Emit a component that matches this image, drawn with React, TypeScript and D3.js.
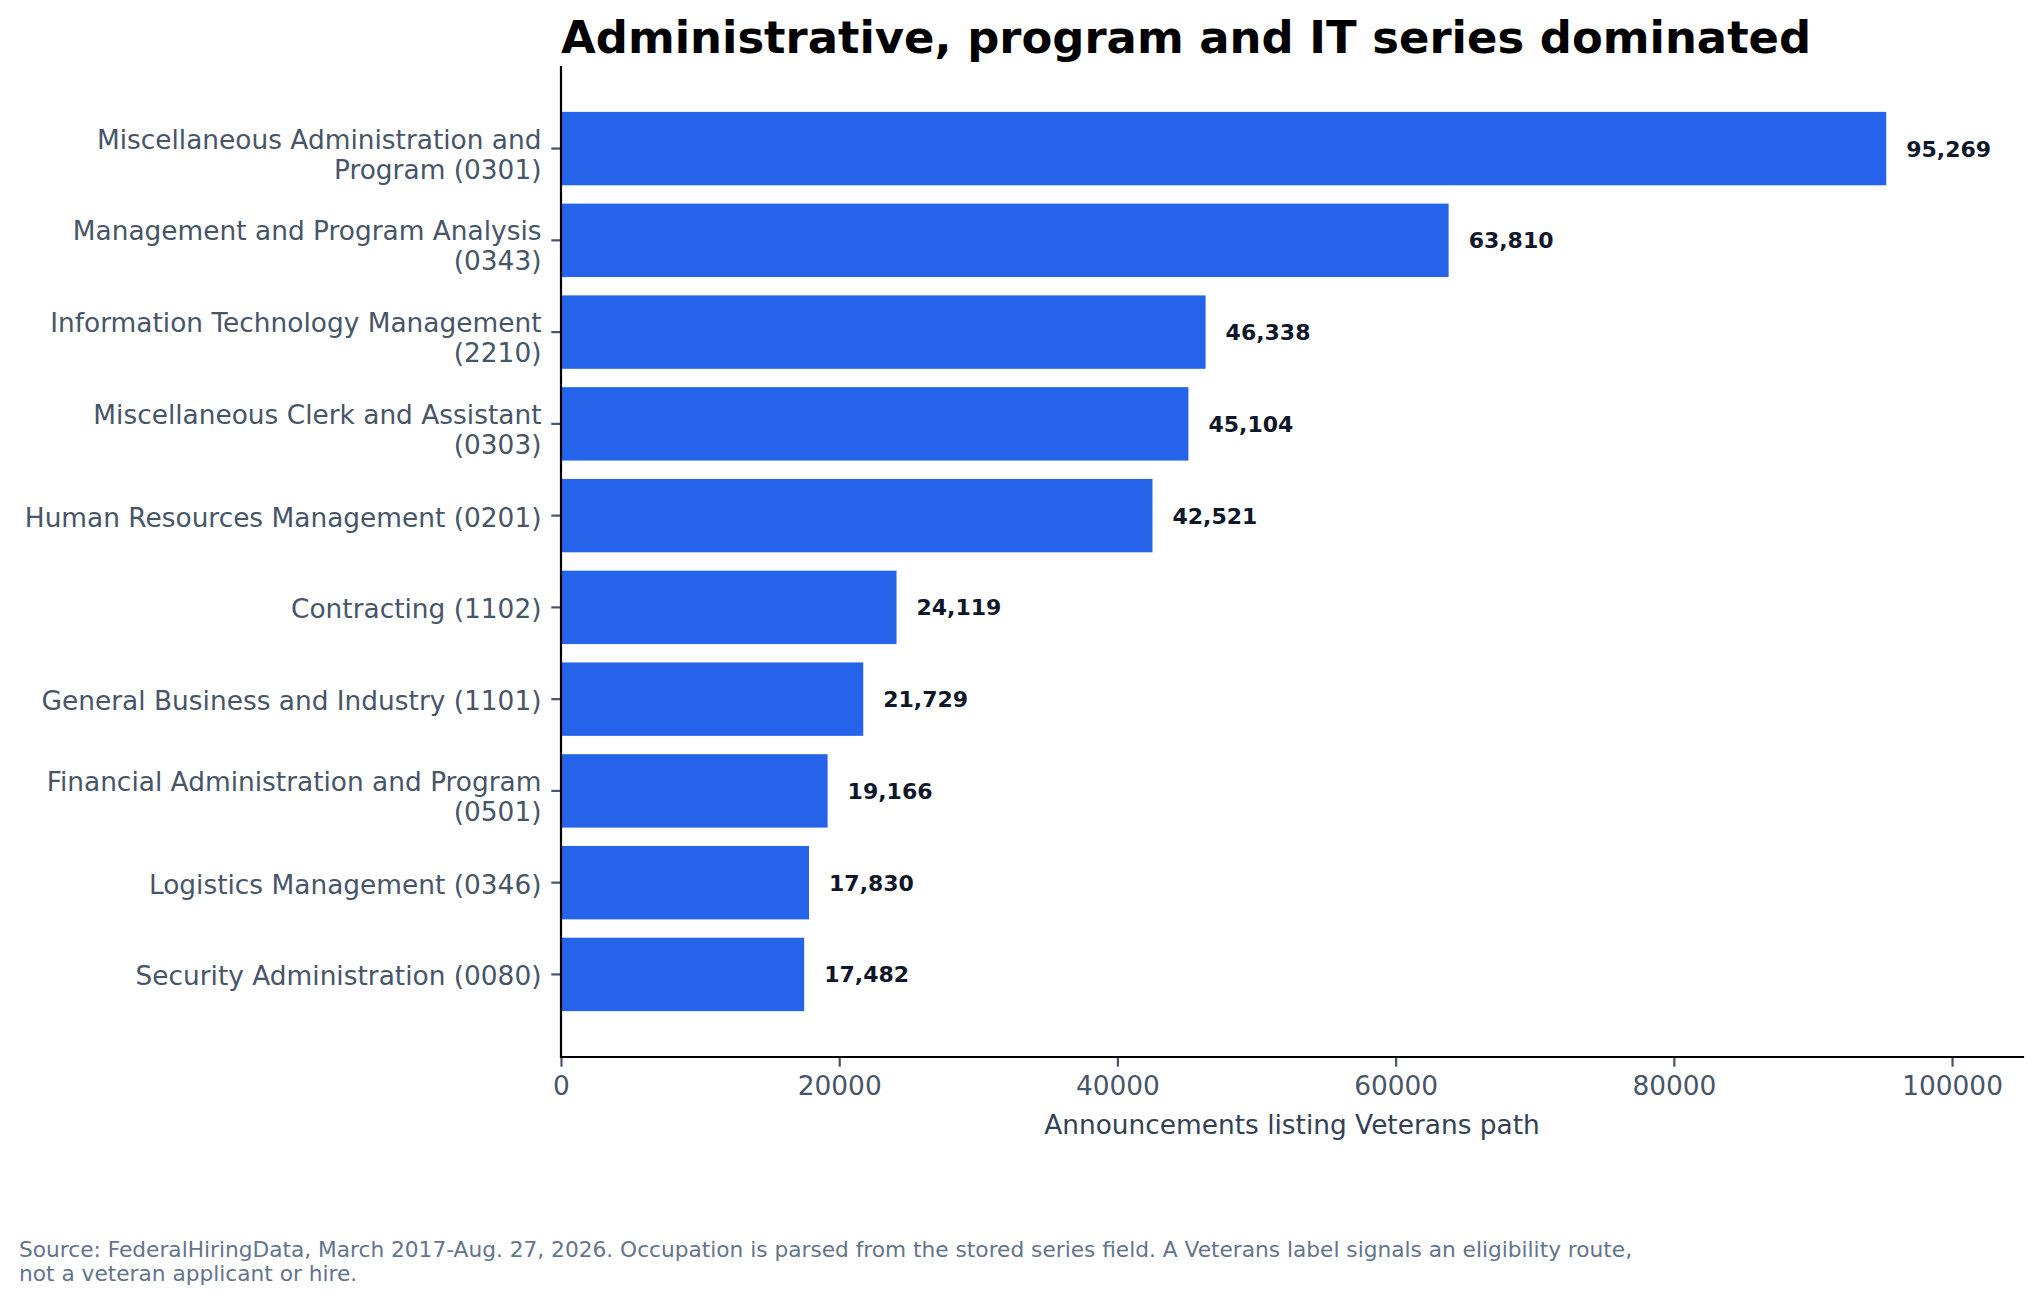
import { useEffect, useRef } from 'react';
import * as d3 from 'd3';

const WIDTH = 2040;
const HEIGHT = 1302;
const MARGIN = { top: 66, right: 17, bottom: 245, left: 561 };

const FONT = '"DejaVu Sans", Verdana, sans-serif';

// occupations, top to bottom
const categories = ['0301', '0343', '2210', '0303', '0201', '1102', '1101', '0501', '0346', '0080'];
const labelLines = [
  ['Miscellaneous Administration and', 'Program (0301)'],
  ['Management and Program Analysis', '(0343)'],
  ['Information Technology Management', '(2210)'],
  ['Miscellaneous Clerk and Assistant', '(0303)'],
  ['Human Resources Management (0201)'],
  ['Contracting (1102)'],
  ['General Business and Industry (1101)'],
  ['Financial Administration and Program', '(0501)'],
  ['Logistics Management (0346)'],
  ['Security Administration (0080)'],
];
const values = [95269, 63810, 46338, 45104, 42521, 24119, 21729, 19166, 17830, 17482];
const xTicks = [0, 20000, 40000, 60000, 80000, 100000];

const TITLE = 'Administrative, program and IT series dominated';
const X_LABEL = 'Announcements listing Veterans path';
const FOOTNOTE = [
  'Source: FederalHiringData, March 2017-Aug. 27, 2026. Occupation is parsed from the stored series field. A Veterans label signals an eligibility route,',
  'not a veteran applicant or hire.',
];

export default function App() {
  const svgRef = useRef<SVGSVGElement>(null);

  useEffect(() => {
    if (!svgRef.current) return;
    document.body.style.margin = '0';

    const svg = d3.select(svgRef.current);
    svg.selectAll('*').remove();

    const innerWidth = WIDTH - MARGIN.left - MARGIN.right;
    const innerHeight = HEIGHT - MARGIN.top - MARGIN.bottom;

    const g = svg.append('g').attr('transform', `translate(${MARGIN.left},${MARGIN.top})`);

    const x = d3.scaleLinear().domain([0, 105100]).range([0, innerWidth]);
    const y = d3
      .scaleBand<string>()
      .domain(categories)
      .range([0, innerHeight])
      .paddingInner(0.2)
      .paddingOuter(0.5);

    g.selectAll('rect.bar')
      .data(categories)
      .enter()
      .append('rect')
      .attr('class', 'bar')
      .attr('x', x(0))
      .attr('y', (d) => y(d) ?? 0)
      .attr('width', (_, i) => x(values[i]) - x(0))
      .attr('height', y.bandwidth())
      .attr('fill', '#2563eb');

    // value labels
    g.selectAll('text.value')
      .data(categories)
      .enter()
      .append('text')
      .attr('class', 'value')
      .attr('x', (_, i) => x(values[i]) + 20)
      .attr('y', (d) => (y(d) ?? 0) + y.bandwidth() / 2 + 8)
      .attr('font-family', FONT)
      .attr('font-size', 22)
      .attr('font-weight', 'bold')
      .attr('fill', '#0f172a')
      .text((_, i) => d3.format(',')(values[i]));

    // x axis
    const xAxis = d3.axisBottom(x).tickValues(xTicks).tickFormat(d3.format('d')).tickSize(9.7).tickPadding(10);
    const xg = g.append('g').attr('transform', `translate(0,${innerHeight})`).call(xAxis);
    xg.select('.domain').remove();
    xg.selectAll('.tick line').attr('stroke', '#475569').attr('stroke-width', 2.2);
    xg.selectAll('.tick text')
      .attr('font-family', FONT)
      .attr('font-size', 26.4)
      .attr('fill', '#475569');

    // y axis, drawn by hand for the wrapped labels
    const yg = g.append('g');
    const ticks = yg
      .selectAll('g.ytick')
      .data(categories)
      .enter()
      .append('g')
      .attr('class', 'ytick')
      .attr('transform', (d) => `translate(0,${(y(d) ?? 0) + y.bandwidth() / 2})`);
    ticks.append('line').attr('x1', -9.7).attr('x2', 0).attr('stroke', '#475569').attr('stroke-width', 2.2);
    ticks.each(function (_, i) {
      const lines = labelLines[i];
      const t = d3
        .select(this)
        .append('text')
        .attr('text-anchor', 'end')
        .attr('font-family', FONT)
        .attr('font-size', 26.4)
        .attr('fill', '#475569');
      lines.forEach((line, j) => {
        const dy = lines.length === 1 ? 11 : j === 0 ? 0 : 30;
        t.append('tspan').attr('x', -19.5).attr('y', dy).text(line);
      });
    });

    // spines
    g.append('line')
      .attr('x1', 0)
      .attr('x2', 0)
      .attr('y1', 0)
      .attr('y2', innerHeight)
      .attr('stroke', '#000')
      .attr('stroke-width', 2.2);
    g.append('line')
      .attr('x1', 0)
      .attr('x2', innerWidth)
      .attr('y1', innerHeight)
      .attr('y2', innerHeight)
      .attr('stroke', '#000')
      .attr('stroke-width', 2.2)
      .attr('stroke-linecap', 'square');

    g.append('text')
      .attr('x', innerWidth / 2)
      .attr('y', innerHeight + 77)
      .attr('text-anchor', 'middle')
      .attr('font-family', FONT)
      .attr('font-size', 26.4)
      .attr('fill', '#334155')
      .text(X_LABEL);

    svg
      .append('text')
      .attr('x', MARGIN.left)
      .attr('y', 53)
      .attr('font-family', FONT)
      .attr('font-size', 44.9)
      .attr('font-weight', 'bold')
      .attr('fill', '#000')
      .text(TITLE);

    const foot = svg
      .append('text')
      .attr('font-family', FONT)
      .attr('font-size', 21.7)
      .attr('fill', '#64748b');
    FOOTNOTE.forEach((line, i) => {
      foot.append('tspan').attr('x', 19).attr('y', 1257 + i * 24).text(line);
    });
  }, []);

  return (
    <div style={{ width: WIDTH, height: HEIGHT, background: '#fff' }}>
      <svg ref={svgRef} width={WIDTH} height={HEIGHT} style={{ display: 'block' }} />
    </div>
  );
}
